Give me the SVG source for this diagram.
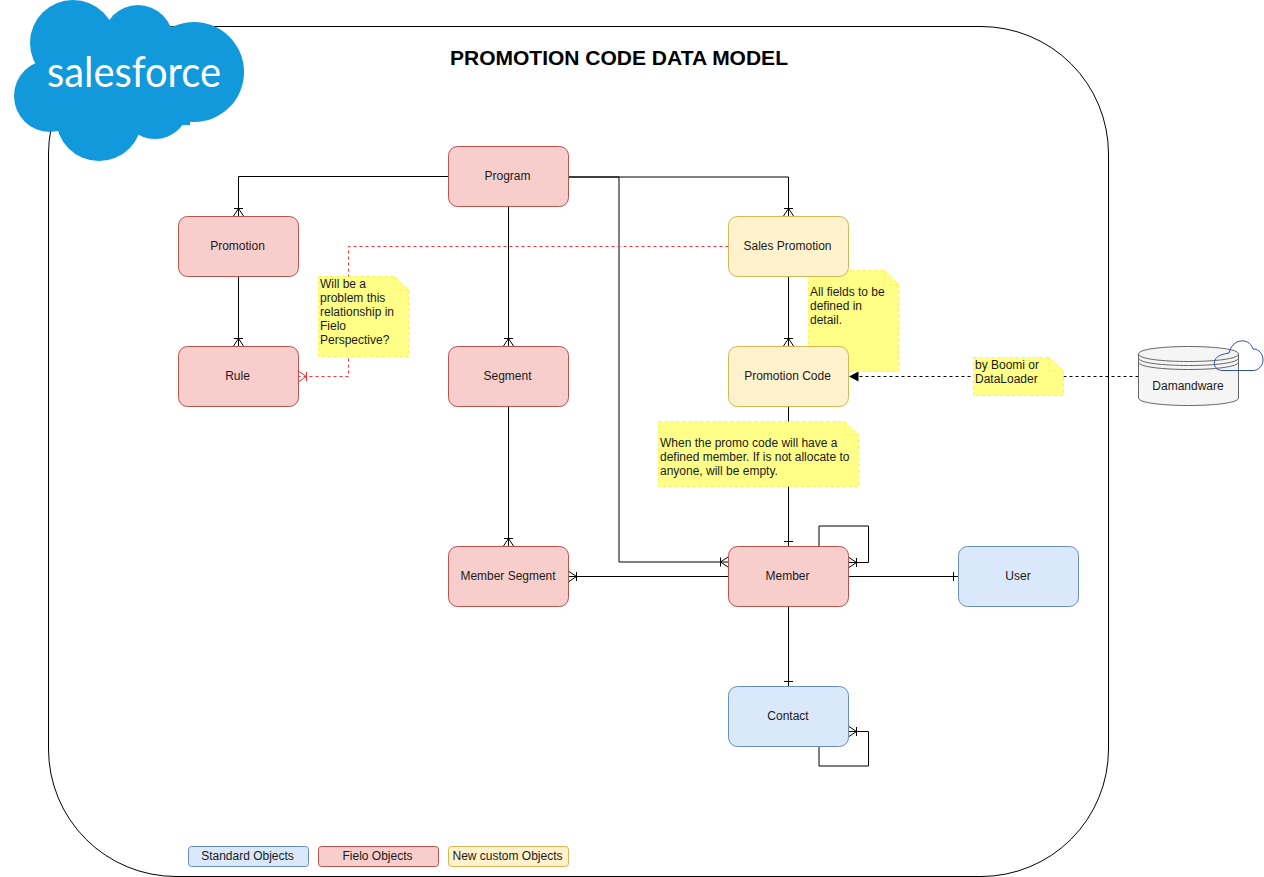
<svg xmlns="http://www.w3.org/2000/svg" width="1264" height="877" viewBox="0 0 1264 877">
<style>
text{font-family:"Liberation Sans",Arial,sans-serif;font-size:12px;fill:#1a1a1a}
.c{text-anchor:middle}
.n{stroke-width:1}
.red{fill:#f8cecc;stroke:#b85450}
.blue{fill:#dae8fc;stroke:#6c8ebf}
.yel{fill:#fff2cc;stroke:#d6b656}
.note{fill:#ffff88;stroke:#fff04d;stroke-dasharray:3 3}
.fold{fill:none;stroke:#fff04d;stroke-dasharray:3 3}
.l{fill:none;stroke:#000}
.m{fill:none;stroke:#000}
.r{fill:none;stroke:#ff3333;stroke-dasharray:3 3}
.k{fill:none;stroke:#000;stroke-dasharray:3 3}
</style>
<rect id="frame" x="48.5" y="26.5" width="1060" height="850" rx="127.5" fill="#fff" stroke="#000"/>
<g id="connectors">
<path class="l" d="M448.5 176.500H238.500V216.500"/>
<path class="l" d="M238.500 276.500V346.500"/>
<path class="l" d="M508.500 206.500V346.500"/>
<path class="l" d="M508.500 406.500V546.500"/>
<path class="l" d="M568.500 177H788.500V216.500"/>
<path class="l" d="M568.500 177H619V562H728.500"/>
<path class="l" d="M788.500 276.500V346.500"/>
<path class="l" d="M788.500 406.500V546.500"/>
<path class="l" d="M728.500 576.500H568.500"/>
<path class="l" d="M848.500 576.500H958.500"/>
<path class="l" d="M788.500 606.500V686.500"/>
<path class="l" d="M819 546.500V526H868.500V562.500H848.500"/>
<path class="l" d="M819 746.500V766H868.500V731.500H848.500"/>
<path class="r" d="M728.500 246.500H348.500V376.500H298.500"/>
<path class="k" d="M1138.500 376.500H858"/>
<path d="M849 376.500L858.500 371.500V381.500Z" fill="#000"/>
<g id="markers">
<path class="m" d="M234 208.500H243M233.500 216L238.500 208.500L243.500 216"/>
<path class="m" d="M234 338.500H243M233.500 346L238.500 338.500L243.500 346"/>
<path class="m" d="M504 338.500H513M503.500 346L508.500 338.500L513.500 346"/>
<path class="m" d="M504 538.500H513M503.500 546L508.500 538.500L513.500 546"/>
<path class="m" d="M784 208.500H793M783.500 216L788.500 208.500L793.500 216"/>
<path class="m" d="M784 338.500H793M783.500 346L788.500 338.500L793.500 346"/>
<path class="m" d="M720.500 557.500V566.500M728 557L720.500 562L728 567"/>
<path class="m" d="M576.500 572V581M569 571.500L576.500 576.500L569 581.500"/>
<path class="m" d="M856.500 558V567M849 557.500L856.500 562.500L849 567.500"/>
<path class="m" d="M856.500 727V736M849 726.500L856.500 731.500L849 736.500"/>
<path class="m" d="M784 541.500H793"/>
<path class="m" d="M784 681.500H793"/>
<path class="m" d="M953.500 572V581"/>
<path d="M306.500 372V381M299 371.500L306.500 376.500L299 381.500" fill="none" stroke="#ff3333"/>
</g>
</g>
<g id="salesforce-logo">
<g fill="#1199dc">
<circle cx="73" cy="43" r="43"/>
<circle cx="138" cy="40" r="35"/>
<circle cx="194" cy="72" r="50"/>
<circle cx="50" cy="96" r="36"/>
<circle cx="99" cy="118" r="43"/>
<circle cx="155" cy="105" r="34"/>
<rect x="60" y="40" width="130" height="85"/>
</g>
<text x="47" y="87" style="font-family:Lato,sans-serif;font-size:42px;fill:#fff" textLength="174" lengthAdjust="spacingAndGlyphs">salesforce</text>
</g>
<g id="title"><text x="619" y="64.500" class="c" style="font-size:21px;font-weight:bold;fill:#000">PROMOTION CODE DATA MODEL</text></g>
<g id="program"><rect class="n red" x="448.500" y="146.500" width="120" height="60" rx="9"/><text class="c" x="507.500" y="180">Program</text></g>
<g id="promotion"><rect class="n red" x="178.500" y="216.500" width="120" height="60" rx="9"/><text class="c" x="237.500" y="250">Promotion</text></g>
<g id="rule"><rect class="n red" x="178.500" y="346.500" width="120" height="60" rx="9"/><text class="c" x="237.500" y="380">Rule</text></g>
<g id="segment"><rect class="n red" x="448.500" y="346.500" width="120" height="60" rx="9"/><text class="c" x="507.500" y="380">Segment</text></g>
<g id="member-segment"><rect class="n red" x="448.500" y="546.500" width="120" height="60" rx="9"/><text class="c" x="508" y="580" textLength="95" lengthAdjust="spacingAndGlyphs">Member Segment</text></g>
<g id="note-fields"><path class="note" d="M808.500 270.500H885L898.500 284.500V371.500H808.500Z"/><path class="fold" d="M885 270.500V284.500H898.500"/><text x="810" y="296">All fields to be</text><text x="810" y="310">defined in</text><text x="810" y="324">detail.</text></g>
<g id="sales-promotion"><rect class="n yel" x="728.500" y="216.500" width="120" height="60" rx="9"/><text class="c" x="787.500" y="250">Sales Promotion</text></g>
<g id="promotion-code"><rect class="n yel" x="728.500" y="346.500" width="120" height="60" rx="9"/><text class="c" x="787.500" y="380">Promotion Code</text></g>
<g id="member"><rect class="n red" x="728.500" y="546.500" width="120" height="60" rx="9"/><text class="c" x="787.500" y="580">Member</text></g>
<g id="user"><rect class="n blue" x="958.500" y="546.500" width="120" height="60" rx="9"/><text class="c" x="1018" y="580">User</text></g>
<g id="contact"><rect class="n blue" x="728.500" y="686.500" width="120" height="60" rx="9"/><text class="c" x="788" y="720">Contact</text></g>
<g id="note-fielo"><path class="note" d="M318.500 276.500H395L408.500 290V356.500H318.500Z"/><path class="fold" d="M395 276.500V290H408.500"/><text x="320" y="288">Will be a</text><text x="320" y="302">problem this</text><text x="320" y="316">relationship in</text><text x="320" y="330">Fielo</text><text x="320" y="344">Perspective?</text></g>
<g id="note-member"><path class="note" d="M658.500 421.500H845L858.500 435V486.500H658.500Z"/><path class="fold" d="M845 421.500V435H858.500"/><text x="660" y="447">When the promo code will have a</text><text x="660" y="461">defined member. If is not allocate to</text><text x="660" y="475">anyone, will be empty.</text></g>
<g id="note-boomi"><path class="note" d="M973.500 357.500H1049L1063.500 371V395.500H973.500Z"/><path class="fold" d="M1049 357.500V371H1063.500"/><text x="975" y="369">by Boomi or</text><text x="975" y="383">DataLoader</text></g>
<g id="damandware">
<path d="M1138.500 354C1138.500 344 1238.500 344 1238.500 354V398C1238.500 408 1138.500 408 1138.500 398Z" fill="#f5f5f5" stroke="#666"/>
<path d="M1138.500 354C1138.500 364 1238.500 364 1238.500 354M1138.500 358C1138.500 368 1238.500 368 1238.500 358M1138.500 362C1138.500 372 1238.500 372 1238.500 362" fill="none" stroke="#666"/>
<text class="c" x="1188" y="390">Damandware</text>
<path d="M1223 370.500C1216 370.500 1214 366 1214.500 362C1215 357 1220 354.500 1229 353C1231 344 1238 340 1244 341C1250 342 1252 346 1253 349C1259 349 1263 354 1263 360C1263 366 1258 370.500 1253 370.500Z" fill="none" stroke="#2c4fa8"/>
</g>
<g id="legend-standard"><rect class="n blue" x="188.500" y="846.500" width="120" height="20" rx="3"/><text class="c" x="247.500" y="860">Standard Objects</text></g>
<g id="legend-fielo"><rect class="n red" x="318.500" y="846.500" width="120" height="20" rx="3"/><text class="c" x="377.500" y="860">Fielo Objects</text></g>
<g id="legend-custom"><rect class="n yel" x="448.500" y="846.500" width="120" height="20" rx="3"/><text class="c" x="507.500" y="860">New custom Objects</text></g>
</svg>
